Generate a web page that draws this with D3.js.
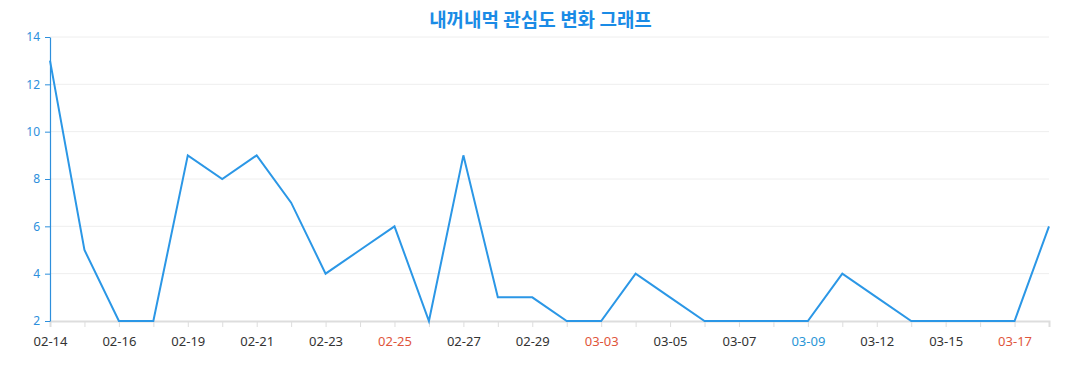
<!DOCTYPE html>
<html>
<head>
<meta charset="utf-8">
<script src="https://cdn.jsdelivr.net/npm/d3@7"></script>
<style>
  body { margin: 0; background: #fff; }
  svg { font-family: "Noto Sans", "Open Sans", sans-serif; }
</style>
</head>
<body>
<div id="chart"></div>
<script>
// chart data
const dates = ['02-14', '02-15', '02-16', '02-18', '02-19', '02-20', '02-21', '02-22', '02-23', '02-24',
  '02-25', '02-26', '02-27', '02-28', '02-29', '03-01', '03-03', '03-04', '03-05', '03-06',
  '03-07', '03-08', '03-09', '03-11', '03-12', '03-13', '03-15', '03-16', '03-17', '03-18'];
const counts = [13, 5, 2, 2, 9, 8, 9, 7, 4, 5, 6, 2, 9, 3, 3, 2, 2, 4, 3, 2, 2, 2, 2, 4, 3, 2, 2, 2, 2, 6];
const yTicks = [2, 4, 6, 8, 10, 12, 14];
const sundays = ['02-25', '03-03', '03-17'];
const saturdays = ['03-09'];

const width = 1077;
const height = 390;
const margin = {top: 37, right: 28, bottom: 69, left: 50};

const svg = d3.select('#chart')
  .append('svg')
  .attr('width', width)
  .attr('height', height);

const x = d3.scalePoint()
  .domain(dates)
  .range([margin.left, width - margin.right]);

const y = d3.scaleLinear()
  .domain([2, 14])
  .range([height - margin.bottom, margin.top]);

svg.append('text')
  .attr('x', width / 2 + 2)
  .attr('y', 27)
  .attr('text-anchor', 'middle')
  .attr('fill', '#1a8be6')
  .style('font-family', '"Noto Sans CJK KR", sans-serif')
  .style('font-size', '19px')
  .style('font-weight', 'bold')
  .text('내꺼내먹 관심도 변화 그래프');

// grid
svg.append('g')
  .selectAll('line')
  .data(yTicks.slice(1))
  .enter().append('line')
  .attr('x1', margin.left)
  .attr('x2', width - margin.right)
  .attr('y1', d => y(d))
  .attr('y2', d => y(d))
  .attr('stroke', '#eeeeee');

// x axis
const xAxis = svg.append('g')
  .attr('transform', `translate(0,${height - margin.bottom})`)
  .call(d3.axisBottom(x).tickSizeOuter(0).tickSize(6).tickPadding(10)
    .tickFormat((d, i) => i % 2 === 0 ? d : ''));
xAxis.select('.domain').attr('stroke', '#dddddd').attr('stroke-width', 2);
xAxis.selectAll('.tick line').attr('stroke', '#dddddd');
xAxis.selectAll('.tick text')
  .style('font-family', '"Noto Sans", "Open Sans", sans-serif')
  .style('font-size', '13px')
  .attr('fill', d => sundays.includes(d) ? '#e0553b' : saturdays.includes(d) ? '#2a96d6' : '#333333');

// y axis
const yAxis = svg.append('g')
  .attr('transform', `translate(${margin.left},0)`)
  .call(d3.axisLeft(y).tickValues(yTicks).tickSize(5).tickPadding(5).tickSizeOuter(0));
yAxis.select('.domain').attr('stroke', '#2d8fdc').attr('stroke-width', 1.2);
yAxis.selectAll('.tick line').attr('stroke', '#2d8fdc');
yAxis.selectAll('.tick text')
  .style('font-family', '"Noto Sans", "Open Sans", sans-serif')
  .style('font-size', '12px')
  .attr('fill', '#2d8fdc');

// line
const line = d3.line()
  .x((d, i) => x(dates[i]))
  .y(d => y(d));

svg.append('path')
  .datum(counts)
  .attr('fill', 'none')
  .attr('stroke', '#2b97e6')
  .attr('stroke-width', 2)
  .attr('d', line);
</script>
</body>
</html>
